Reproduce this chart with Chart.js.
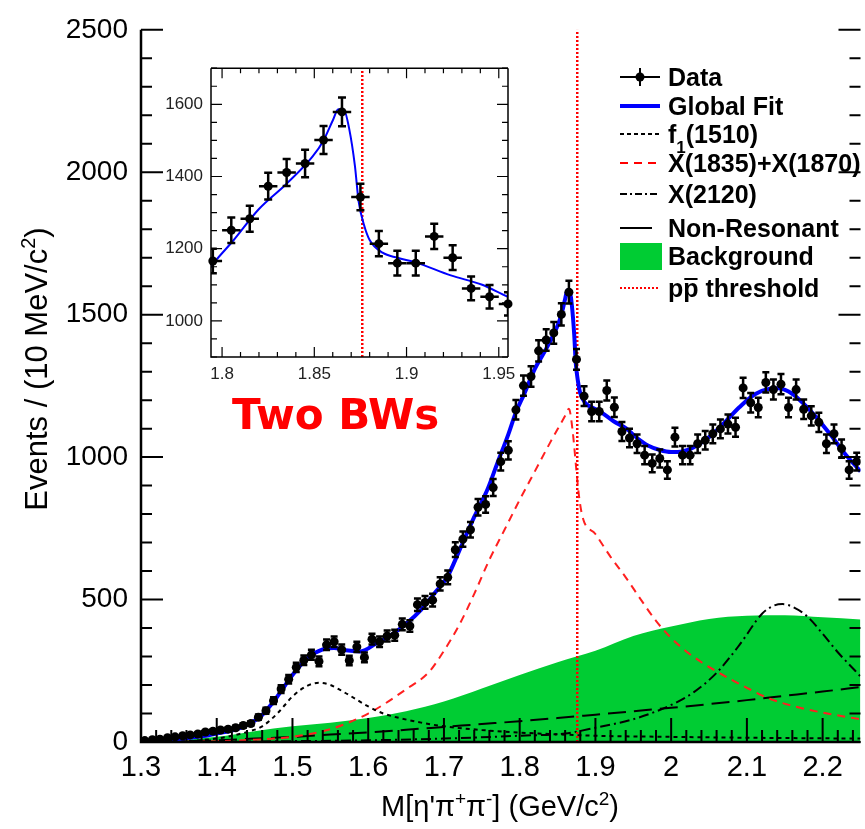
<!DOCTYPE html>
<html>
<head>
<meta charset="utf-8">
<script src="https://cdn.jsdelivr.net/npm/chart.js@4.4.1/dist/chart.umd.min.js"></script>
<style>
  body { margin: 0; background: #fff; }
  #wrap { position: relative; width: 865px; height: 829px; overflow: hidden; }
  #main { position: absolute; left: 0; top: 0; }
  #inset { position: absolute; left: 150px; top: 50px; }
  #bw { position: absolute; left: 232px; top: 394px; color: #ff0000; font: bold 42px "DejaVu Sans", sans-serif; line-height: 1; }
</style>
</head>
<body>
<div id="wrap">
  <canvas id="main" width="865" height="829"></canvas>
  <canvas id="inset" width="375" height="345"></canvas>
  <div id="bw">Two BWs</div>
</div>
<script>
// data (events per 10 MeV bin, bins from 1.30 GeV)
const binLow = 1.30
const binWidth = 0.01
const events = [5, 8, 10, 15, 18, 22, 25, 28, 35, 38,
  42, 45, 50, 58, 65, 87, 110, 145, 186, 220,
  262, 287, 306, 283, 341, 352, 324, 286, 334, 297,
  361, 352, 372, 375, 413, 407, 482, 490, 498, 555,
  578, 675, 712, 745, 824, 834, 893, 984, 1024, 1166,
  1251, 1283, 1373, 1411, 1436, 1501, 1579, 1343, 1214, 1160,
  1160, 1234, 1175, 1090, 1067, 1047, 1007, 978, 995, 955,
  1070, 1007, 1007, 1047, 1059, 1082, 1099, 1116, 1105, 1243,
  1191, 1174, 1262, 1237, 1256, 1174, 1237, 1168, 1145, 1122,
  1047, 1082, 1030, 955, 984]
const massBins = events.map((_, i) => +(binLow + binWidth * (i + 0.5)).toFixed(3))

const fitMass = [1.30, 1.32, 1.34, 1.36, 1.38, 1.40, 1.42, 1.44, 1.46, 1.48, 1.50, 1.52, 1.54, 1.555, 1.57, 1.59, 1.61, 1.63, 1.65, 1.67, 1.69, 1.705, 1.72, 1.74, 1.758, 1.77, 1.785, 1.795, 1.806, 1.82, 1.835, 1.849, 1.855, 1.86, 1.863, 1.866, 1.869, 1.872, 1.874, 1.877, 1.88, 1.887, 1.895, 1.905, 1.924, 1.941, 1.955, 1.97, 1.985, 2.00, 2.015, 2.03, 2.05, 2.07, 2.09, 2.11, 2.13, 2.142, 2.155, 2.17, 2.19, 2.21, 2.23, 2.25]
const fitEvents = [3, 6, 9, 14, 20, 30, 40, 60, 95, 160, 235, 295, 325, 330, 322, 318, 345, 375, 415, 465, 530, 582, 670, 790, 890, 975, 1080, 1157, 1222, 1310, 1380, 1455, 1500, 1555, 1586, 1585, 1530, 1430, 1332, 1265, 1224, 1189, 1175, 1162, 1126, 1100, 1067, 1040, 1025, 1018, 1020, 1035, 1070, 1120, 1175, 1220, 1240, 1242, 1230, 1200, 1145, 1080, 1010, 950]

const f1Mass = [1.30, 1.35, 1.40, 1.42, 1.44, 1.46, 1.48, 1.49, 1.50, 1.52, 1.535, 1.55, 1.57, 1.60, 1.62, 1.64, 1.67, 1.70, 1.75, 1.80, 1.85, 1.90, 2.00, 2.10, 2.25]
const f1Events = [0, 2, 12, 22, 35, 55, 100, 130, 160, 198, 208, 200, 172, 125, 100, 85, 68, 55, 42, 33, 27, 22, 18, 15, 12]

const xMass = [1.30, 1.40, 1.45, 1.50, 1.55, 1.60, 1.65, 1.68, 1.70, 1.72, 1.74, 1.76, 1.78, 1.80, 1.82, 1.84, 1.86, 1.865, 1.87, 1.875, 1.878, 1.883, 1.90, 1.92, 1.94, 1.96, 1.98, 2.00, 2.02, 2.04, 2.06, 2.08, 2.10, 2.13, 2.16, 2.20, 2.25]
const xEvents = [0, 3, 8, 18, 45, 100, 185, 245, 320, 410, 520, 640, 745, 850, 950, 1050, 1145, 1170, 1090, 950, 870, 790, 730, 650, 578, 500, 425, 365, 318, 280, 248, 218, 190, 152, 127, 103, 80]

const x2120Mass = [1.30, 1.50, 1.60, 1.70, 1.80, 1.86, 1.90, 1.95, 2.00, 2.03, 2.06, 2.09, 2.12, 2.135, 2.147, 2.16, 2.18, 2.20, 2.22, 2.243, 2.25]
const x2120Events = [0, 3, 6, 12, 22, 30, 50, 80, 130, 175, 243, 340, 450, 478, 484, 475, 440, 380, 315, 250, 230]

const nrMass = [1.30, 1.35, 1.40, 1.45, 1.50, 1.55, 1.60, 1.65, 1.70, 1.75, 1.80, 1.85, 1.90, 1.95, 2.00, 2.05, 2.10, 2.15, 2.20, 2.25]
const nrEvents = [0, 2, 6, 12, 18, 26, 34, 43, 53, 63, 73, 84, 96, 108, 120, 133, 147, 162, 177, 193]

const bkgMass = [1.30, 1.33, 1.35, 1.40, 1.45, 1.50, 1.55, 1.60, 1.65, 1.70, 1.75, 1.80, 1.85, 1.90, 1.95, 2.00, 2.05, 2.10, 2.15, 2.20, 2.25]
const bkgEvents = [0, 1, 5, 18, 38, 55, 68, 84, 108, 142, 188, 235, 280, 320, 372, 405, 432, 443, 445, 438, 430]

const threshold = 1.876

const xTicks = [1.3, 1.4, 1.5, 1.6, 1.7, 1.8, 1.9, 2, 2.1, 2.2]
const yTicks = [0, 500, 1000, 1500, 2000, 2500]
const insetXTicks = [1.8, 1.85, 1.9, 1.95]
const insetYTicks = [1000, 1200, 1400, 1600]

const legendLabels = ['Data', 'Global Fit', 'f1(1510)', 'X(1835)+X(1870)', 'X(2120)', 'Non-Resonant', 'Background', 'pp threshold']

const pairs = (xs, ys) => xs.map((x, i) => ({ x: x, y: ys[i] }))
const FONT = '"Liberation Sans", Arial, Helvetica, sans-serif'

// error bars: vertical sqrt(N), horizontal half bin, with small caps
const errorBarPlugin = {
  id: 'errorBars',
  afterDatasetDraw(chart, args) {
    const ds = chart.data.datasets[args.index]
    if (!ds.errorBars) return
    const { ctx, chartArea: a, scales: { x, y } } = chart
    ctx.save()
    ctx.beginPath()
    ctx.rect(a.left, a.top, a.right - a.left, a.bottom - a.top)
    ctx.clip()
    ctx.strokeStyle = '#000'
    ctx.lineWidth = ds.errorWidth
    const cap = ds.capSize
    ds.data.forEach(p => {
      const e = Math.sqrt(p.y)
      const px = x.getPixelForValue(p.x)
      const py = y.getPixelForValue(p.y)
      const x0 = x.getPixelForValue(p.x - binWidth / 2)
      const x1 = x.getPixelForValue(p.x + binWidth / 2)
      const y0 = y.getPixelForValue(p.y - e)
      const y1 = y.getPixelForValue(p.y + e)
      ctx.beginPath()
      ctx.moveTo(x0, py); ctx.lineTo(x1, py)
      ctx.moveTo(px, y0); ctx.lineTo(px, y1)
      ctx.moveTo(px - cap, y0); ctx.lineTo(px + cap, y0)
      ctx.moveTo(px - cap, y1); ctx.lineTo(px + cap, y1)
      ctx.stroke()
    })
    ctx.restore()
  }
}

// ROOT style frame with ticks pointing inward
const framePlugin = {
  id: 'frame',
  afterDatasetsDraw(chart, args, o) {
    const { ctx, chartArea: a, scales: { x, y } } = chart
    ctx.save()
    ctx.strokeStyle = '#000'
    ctx.lineWidth = o.lineWidth
    ctx.beginPath()
    ctx.moveTo(a.left, a.top); ctx.lineTo(a.left, a.bottom); ctx.lineTo(a.right, a.bottom)
    if (o.top) { ctx.moveTo(a.left, a.top); ctx.lineTo(a.right, a.top) }
    if (o.right) { ctx.moveTo(a.right, a.top); ctx.lineTo(a.right, a.bottom) }
    ctx.stroke()
    ctx.lineWidth = o.tickWidth
    ctx.beginPath()
    for (let i = Math.ceil(x.min / o.xMinor - 1e-6); i * o.xMinor <= x.max + 1e-9; i++) {
      const px = x.getPixelForValue(i * o.xMinor)
      const L = i % o.xEvery === 0 ? o.xLen[0] : o.xLen[1]
      ctx.moveTo(px, a.bottom); ctx.lineTo(px, a.bottom - L)
      if (o.top) { ctx.moveTo(px, a.top); ctx.lineTo(px, a.top + L) }
    }
    for (let i = Math.ceil(y.min / o.yMinor - 1e-6); i * o.yMinor <= y.max + 1e-9; i++) {
      const py = y.getPixelForValue(i * o.yMinor)
      const L = i % o.yEvery === 0 ? o.yLen[0] : o.yLen[1]
      ctx.moveTo(a.left, py); ctx.lineTo(a.left + L, py)
      ctx.moveTo(a.right, py); ctx.lineTo(a.right - L, py)
    }
    ctx.stroke()
    ctx.restore()
  }
}

// text with sub/superscripts: parts = [[text, shift]] shift 1 = super, -1 = sub
function richWidth(ctx, parts, size) {
  let w = 0
  parts.forEach(([t, s]) => {
    ctx.font = (s ? Math.round(size * 0.66) : size) + 'px ' + FONT
    w += ctx.measureText(t).width
  })
  return w
}
function drawRich(ctx, parts, x, y, size, weight) {
  let cx = x
  parts.forEach(([t, s]) => {
    const fs = s ? Math.round(size * 0.66) : size
    ctx.font = (weight || '') + ' ' + fs + 'px ' + FONT
    ctx.fillText(t, cx, y - s * size * 0.38)
    cx += ctx.measureText(t).width
  })
}

const titlePlugin = {
  id: 'axisTitles',
  afterDraw(chart) {
    const ctx = chart.ctx
    ctx.save()
    ctx.fillStyle = '#000'
    ctx.textBaseline = 'alphabetic'
    ctx.textAlign = 'left'
    const yt = [['Events / (10 MeV/c', 0], ['2', 1], [')', 0]]
    const ySize = 31
    ctx.translate(47, 369)
    ctx.rotate(-Math.PI / 2)
    drawRich(ctx, yt, -richWidth(ctx, yt, ySize) / 2, 0, ySize)
    ctx.setTransform(1, 0, 0, 1, 0, 0)
    const xt = [["M[\u03b7'\u03c0", 0], ['+', 1], ['\u03c0', 0], ['-', 1], ['] (GeV/c', 0], ['2', 1], [')', 0]]
    const xSize = 29
    drawRich(ctx, xt, 500 - richWidth(ctx, xt, xSize) / 2, 816, xSize)
    ctx.restore()
  }
}

const legendPlugin = {
  id: 'physLegend',
  afterDraw(chart) {
    const ctx = chart.ctx
    const rows = [77, 106, 134, 163, 194, 228, 256, 288]
    const x0 = 620, x1 = 660, tx = 668
    ctx.save()
    ctx.lineCap = 'butt'
    rows.forEach((y, i) => {
      ctx.setLineDash([])
      ctx.lineWidth = 2
      ctx.strokeStyle = '#000'
      ctx.beginPath()
      if (i === 0) {
        ctx.moveTo(x0, y); ctx.lineTo(x1, y)
        ctx.moveTo(640, y - 9); ctx.lineTo(640, y + 9)
        ctx.stroke()
        ctx.beginPath(); ctx.arc(640, y, 4.5, 0, Math.PI * 2); ctx.fillStyle = '#000'; ctx.fill()
      } else if (i === 1) {
        ctx.strokeStyle = '#0000ff'; ctx.lineWidth = 4
        ctx.moveTo(x0, y); ctx.lineTo(x1, y); ctx.stroke()
      } else if (i === 2) {
        ctx.setLineDash([4, 3]); ctx.moveTo(x0, y); ctx.lineTo(x1, y); ctx.stroke()
      } else if (i === 3) {
        ctx.strokeStyle = '#ff0000'; ctx.setLineDash([8, 6]); ctx.moveTo(x0, y); ctx.lineTo(x1, y); ctx.stroke()
      } else if (i === 4) {
        ctx.setLineDash([7, 3, 2, 3]); ctx.moveTo(x0, y); ctx.lineTo(x1, y); ctx.stroke()
      } else if (i === 5) {
        ctx.moveTo(x0, y); ctx.lineTo(652, y); ctx.stroke()
      } else if (i === 6) {
        ctx.fillStyle = '#00cc33'; ctx.fillRect(x0, y - 13, 42, 27)
      } else {
        ctx.strokeStyle = '#ff0000'; ctx.setLineDash([2, 2]); ctx.moveTo(x0, y); ctx.lineTo(x1, y); ctx.stroke()
      }
    })
    ctx.setLineDash([])
    ctx.fillStyle = '#000'
    ctx.textBaseline = 'alphabetic'
    ctx.textAlign = 'left'
    const size = 25
    rows.forEach((y, i) => {
      const base = y + 9
      const label = legendLabels[i]
      if (i === 2) {
        drawRich(ctx, [[label.slice(0, 1), 0], [label.slice(1, 2), -1], [label.slice(2), 0]], tx, base, size, 'bold')
      } else if (i === 7) {
        ctx.font = 'bold ' + size + 'px ' + FONT
        ctx.fillText(label, tx, base)
        const wp = ctx.measureText(label.slice(0, 1)).width
        const wpp = ctx.measureText(label.slice(0, 2)).width
        ctx.lineWidth = 2; ctx.strokeStyle = '#000'
        ctx.beginPath(); ctx.moveTo(tx + wp + 1, base - 18); ctx.lineTo(tx + wpp - 1, base - 18); ctx.stroke()
      } else {
        ctx.font = 'bold ' + size + 'px ' + FONT
        ctx.fillText(label, tx, base)
      }
    })
    ctx.restore()
  }
}

const curve = (label, xs, ys, color, dash, width, order) => ({
  label: label, data: pairs(xs, ys), borderColor: color, borderDash: dash, borderWidth: width,
  pointRadius: 0, cubicInterpolationMode: 'monotone', fill: false, order: order
})

const dataPoints = massBins.map((m, i) => ({ x: m, y: events[i] }))

new Chart(document.getElementById('main'), {
  type: 'line',
  data: {
    datasets: [
      { label: 'Data', data: dataPoints, showLine: false, pointRadius: 4.5, pointHoverRadius: 4.5,
        pointBackgroundColor: '#000', pointBorderWidth: 0, errorBars: true, errorWidth: 2.5, capSize: 3.5, order: 0 },
      curve('Global Fit', fitMass, fitEvents, '#0000ff', [], 4, 1),
      { label: 'threshold', data: [{ x: threshold, y: 0 }, { x: threshold, y: 2500 }], borderColor: '#ff0000',
        borderDash: [2, 2], borderWidth: 2.5, pointRadius: 0, order: 2 },
      curve('f1(1510)', f1Mass, f1Events, '#000', [4, 4], 2, 3),
      curve('X(1835)+X(1870)', xMass, xEvents, '#ff2020', [8, 6], 2, 3),
      curve('X(2120)', x2120Mass, x2120Events, '#000', [10, 4, 2, 4], 2, 3),
      curve('Non-Resonant', nrMass, nrEvents, '#000', [18, 8], 2, 3),
      { label: 'Background', data: pairs(bkgMass, bkgEvents), borderColor: 'rgba(0,0,0,0)', borderWidth: 0,
        backgroundColor: '#00cc33', fill: 'origin', pointRadius: 0, cubicInterpolationMode: 'monotone', order: 10 }
    ]
  },
  options: {
    responsive: false,
    animation: false,
    layout: { padding: { top: 17, right: 0, left: 0, bottom: 0 } },
    plugins: {
      legend: { display: false },
      tooltip: { enabled: false },
      frame: { lineWidth: 2.5, tickWidth: 2, top: false, right: false, xMinor: 0.02, xEvery: 5, xLen: [24, 12], yMinor: 100, yEvery: 5, yLen: [22, 11] }
    },
    scales: {
      x: {
        type: 'linear', min: 1.3, max: 2.25,
        afterFit: s => { s.height = 87 },
        afterBuildTicks: s => { s.ticks = xTicks.map(v => ({ value: v })) },
        grid: { display: false, drawTicks: false },
        border: { display: false },
        ticks: { color: '#000', font: { family: FONT, size: 29 }, padding: 9, maxRotation: 0, autoSkip: false, callback: v => String(v) }
      },
      y: {
        min: 0, max: 2500,
        afterFit: s => { s.width = 141 },
        afterBuildTicks: s => { s.ticks = yTicks.map(v => ({ value: v })) },
        grid: { display: false, drawTicks: false },
        border: { display: false },
        ticks: { color: '#000', font: { family: FONT, size: 28 }, padding: 13, autoSkip: false, callback: v => String(v) }
      }
    }
  },
  plugins: [errorBarPlugin, framePlugin, titlePlugin, legendPlugin]
})

// zoom on the threshold region
const insetMin = 1.794, insetMax = 1.955
new Chart(document.getElementById('inset'), {
  type: 'line',
  data: {
    datasets: [
      { label: 'Data', data: dataPoints.filter(p => p.x > insetMin && p.x < insetMax + 0.001), showLine: false,
        pointRadius: 4.5, pointHoverRadius: 4.5, pointBackgroundColor: '#000', pointBorderWidth: 0,
        errorBars: true, errorWidth: 2.5, capSize: 4, clip: false, order: 0 },
      curve('Global Fit', fitMass, fitEvents, '#0000ff', [], 2, 1),
      { label: 'threshold', data: [{ x: threshold, y: 900 }, { x: threshold, y: 1700 }], borderColor: '#ff0000',
        borderDash: [2, 2], borderWidth: 2.5, pointRadius: 0, order: 2 }
    ]
  },
  options: {
    responsive: false,
    animation: false,
    layout: { padding: { top: 10, right: 17, left: 0, bottom: 0 } },
    plugins: {
      legend: { display: false },
      tooltip: { enabled: false },
      frame: { lineWidth: 1.5, tickWidth: 1.2, top: true, right: true, xMinor: 0.01, xEvery: 5, xLen: [10, 5], yMinor: 50, yEvery: 4, yLen: [11, 6] }
    },
    scales: {
      x: {
        type: 'linear', min: insetMin, max: insetMax,
        afterFit: s => { s.height = 38 },
        afterBuildTicks: s => { s.ticks = insetXTicks.map(v => ({ value: v })) },
        grid: { display: false, drawTicks: false },
        border: { display: false },
        ticks: { color: '#222', font: { family: FONT, size: 17 }, padding: 7, maxRotation: 0, autoSkip: false, callback: v => String(v) }
      },
      y: {
        min: 900, max: 1700,
        afterFit: s => { s.width = 61 },
        afterBuildTicks: s => { s.ticks = insetYTicks.map(v => ({ value: v })) },
        grid: { display: false, drawTicks: false },
        border: { display: false },
        ticks: { color: '#222', font: { family: FONT, size: 17 }, padding: 8, autoSkip: false, callback: v => String(v) }
      }
    }
  },
  plugins: [errorBarPlugin, framePlugin]
})
</script>
</body>
</html>
